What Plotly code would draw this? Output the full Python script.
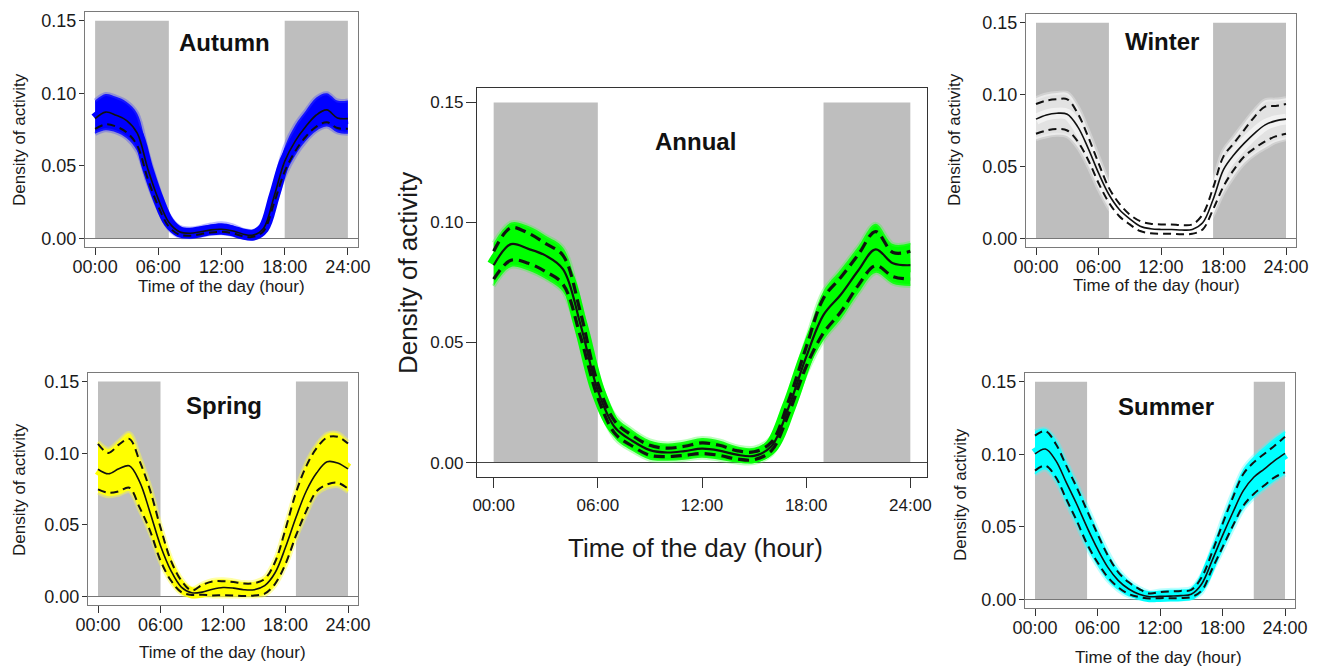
import plotly.graph_objects as go

W, H = 1323, 667
FONT = "Liberation Sans, Arial, sans-serif"

HOURS = list(range(25))
X_TICKS = [0, 6, 12, 18, 24]
X_TICKTEXT = ["00:00", "06:00", "12:00", "18:00", "24:00"]
Y_TICKS = [0.0, 0.05, 0.10, 0.15]
Y_TICKTEXT = ["0.00", "0.05", "0.10", "0.15"]
NIGHT_TOP = 0.15

# ---------------- Annual ----------------
ANNUAL_MEAN = [0.0822, 0.0910, 0.0890, 0.0862, 0.0805, 0.0575, 0.0300, 0.0145, 0.0090, 0.0052, 0.0042, 0.0048, 0.0058,
               0.0050, 0.0033, 0.0028, 0.0068, 0.0232, 0.0440, 0.0615, 0.0700, 0.0800, 0.0888, 0.0830, 0.0822]
ANNUAL_CI_HI = [0.0880, 0.0978, 0.0955, 0.0912, 0.0862, 0.0625, 0.0330, 0.0170, 0.0112, 0.0072, 0.0060, 0.0068, 0.0082,
                0.0072, 0.0050, 0.0045, 0.0085, 0.0260, 0.0480, 0.0685, 0.0772, 0.0866, 0.0962, 0.0875, 0.0880]
ANNUAL_CI_LO = [0.0764, 0.0843, 0.0830, 0.0795, 0.0742, 0.0525, 0.0270, 0.0120, 0.0068, 0.0030, 0.0025, 0.0030, 0.0038,
                0.0030, 0.0015, 0.0012, 0.0050, 0.0205, 0.0400, 0.0540, 0.0628, 0.0738, 0.0820, 0.0775, 0.0764]
ANNUAL_ENV_HI = [0.0915, 0.1000, 0.0985, 0.0945, 0.0895, 0.0660, 0.0360, 0.0195, 0.0135, 0.0092, 0.0080, 0.0088, 0.0102,
                 0.0092, 0.0068, 0.0062, 0.0105, 0.0285, 0.0510, 0.0715, 0.0805, 0.0900, 0.0995, 0.0910, 0.0915]
ANNUAL_ENV_LO = [0.0735, 0.0815, 0.0800, 0.0765, 0.0710, 0.0495, 0.0245, 0.0100, 0.0048, 0.0012, 0.0008, 0.0012, 0.0020,
                 0.0012, 0.0000, -0.0002, 0.0032, 0.0180, 0.0370, 0.0510, 0.0598, 0.0705, 0.0790, 0.0745, 0.0735]
ANNUAL_NIGHT_START = [0, 19]
ANNUAL_NIGHT_END = [6, 24]

# ---------------- Autumn ----------------
AUTUMN_MEAN = [0.0825, 0.0870, 0.0848, 0.0812, 0.0725, 0.0480, 0.0270, 0.0110, 0.0045, 0.0035, 0.0045, 0.0058, 0.0062,
               0.0052, 0.0030, 0.0022, 0.0070, 0.0290, 0.0530, 0.0670, 0.0770, 0.0850, 0.0885, 0.0830, 0.0825]
AUTUMN_CI_LO = [0.0755, 0.0785, 0.0770, 0.0730, 0.0640, 0.0410, 0.0220, 0.0080, 0.0025, 0.0018, 0.0028, 0.0040, 0.0045,
                0.0036, 0.0015, 0.0010, 0.0050, 0.0245, 0.0460, 0.0600, 0.0700, 0.0770, 0.0800, 0.0760, 0.0755]
AUTUMN_ENV_HI = [0.0950, 0.0995, 0.0975, 0.0940, 0.0860, 0.0590, 0.0350, 0.0160, 0.0080, 0.0068, 0.0078, 0.0095, 0.0103,
                 0.0090, 0.0060, 0.0050, 0.0105, 0.0360, 0.0630, 0.0780, 0.0880, 0.0970, 0.1000, 0.0950, 0.0950]
AUTUMN_ENV_LO = [0.0720, 0.0745, 0.0730, 0.0690, 0.0600, 0.0380, 0.0200, 0.0065, 0.0012, 0.0008, 0.0018, 0.0030, 0.0035,
                 0.0025, 0.0005, 0.0000, 0.0038, 0.0225, 0.0430, 0.0570, 0.0670, 0.0740, 0.0770, 0.0730, 0.0720]
AUTUMN_NIGHT_START = [0, 18]
AUTUMN_NIGHT_END = [7, 24]

# ---------------- Spring ----------------
SPRING_MEAN = [0.0888, 0.0856, 0.0891, 0.0912, 0.0800, 0.0586, 0.0354, 0.0180, 0.0065, 0.0025, 0.0030, 0.0050, 0.0062,
               0.0058, 0.0047, 0.0047, 0.0075, 0.0165, 0.0343, 0.0551, 0.0736, 0.0863, 0.0940, 0.0932, 0.0890]
SPRING_CI_HI = [0.1065, 0.1002, 0.1060, 0.1100, 0.0944, 0.0741, 0.0481, 0.0250, 0.0111, 0.0042, 0.0080, 0.0104, 0.0106,
                0.0100, 0.0090, 0.0093, 0.0122, 0.0240, 0.0470, 0.0724, 0.0910, 0.1037, 0.1110, 0.1115, 0.1068]
SPRING_CI_LO = [0.0748, 0.0724, 0.0734, 0.0759, 0.0620, 0.0458, 0.0250, 0.0111, 0.0030, 0.0010, 0.0012, 0.0007, 0.0009,
                0.0007, 0.0002, 0.0007, 0.0019, 0.0088, 0.0227, 0.0424, 0.0597, 0.0736, 0.0782, 0.0794, 0.0752]
SPRING_ENV_HI = [0.1080, 0.1030, 0.1085, 0.1140, 0.0975, 0.0770, 0.0500, 0.0270, 0.0125, 0.0055, 0.0090, 0.0115, 0.0120,
                 0.0112, 0.0100, 0.0103, 0.0135, 0.0260, 0.0495, 0.0745, 0.0935, 0.1060, 0.1135, 0.1140, 0.1080]
SPRING_ENV_LO = [0.0725, 0.0700, 0.0710, 0.0735, 0.0600, 0.0440, 0.0235, 0.0100, 0.0020, 0.0000, 0.0002, 0.0000, 0.0000,
                 0.0000, 0.0000, 0.0000, 0.0010, 0.0075, 0.0210, 0.0405, 0.0575, 0.0715, 0.0760, 0.0770, 0.0730]
SPRING_NIGHT_START = [0, 19]
SPRING_NIGHT_END = [6, 24]

# ---------------- Winter ----------------
WINTER_MEAN = [0.0829, 0.0858, 0.0870, 0.0863, 0.0777, 0.0628, 0.0455, 0.0305, 0.0201, 0.0136, 0.0085, 0.0067, 0.0062,
               0.0062, 0.0058, 0.0062, 0.0108, 0.0270, 0.0478, 0.0581, 0.0662, 0.0732, 0.0789, 0.0817, 0.0829]
WINTER_CI_HI = [0.0934, 0.0958, 0.0967, 0.0967, 0.0870, 0.0708, 0.0524, 0.0351, 0.0242, 0.0166, 0.0120, 0.0101, 0.0097,
                0.0097, 0.0092, 0.0097, 0.0166, 0.0351, 0.0570, 0.0662, 0.0755, 0.0847, 0.0916, 0.0921, 0.0934]
WINTER_CI_LO = [0.0727, 0.0750, 0.0760, 0.0750, 0.0674, 0.0547, 0.0385, 0.0249, 0.0154, 0.0097, 0.0051, 0.0035, 0.0032,
                0.0032, 0.0028, 0.0032, 0.0062, 0.0201, 0.0362, 0.0478, 0.0570, 0.0628, 0.0674, 0.0709, 0.0727]
WINTER_ENV_HI = [0.0975, 0.1000, 0.1010, 0.1010, 0.0915, 0.0750, 0.0565, 0.0390, 0.0280, 0.0200, 0.0150, 0.0130, 0.0125,
                 0.0125, 0.0120, 0.0125, 0.0200, 0.0390, 0.0610, 0.0705, 0.0800, 0.0890, 0.0960, 0.0965, 0.0975]
WINTER_ENV_LO = [0.0690, 0.0710, 0.0720, 0.0710, 0.0635, 0.0505, 0.0345, 0.0210, 0.0120, 0.0065, 0.0025, 0.0010, 0.0008,
                 0.0008, 0.0005, 0.0008, 0.0030, 0.0165, 0.0320, 0.0435, 0.0525, 0.0585, 0.0630, 0.0670, 0.0690]
WINTER_NIGHT_START = [0, 17]
WINTER_NIGHT_END = [7, 24]

# ---------------- Summer ----------------
SUMMER_MEAN = [0.1002, 0.1036, 0.0956, 0.0806, 0.0657, 0.0496, 0.0347, 0.0220, 0.0129, 0.0071, 0.0035, 0.0018, 0.0020,
               0.0022, 0.0025, 0.0035, 0.0106, 0.0267, 0.0439, 0.0600, 0.0749, 0.0841, 0.0898, 0.0956, 0.1006]
SUMMER_CI_HI = [0.1128, 0.1160, 0.1071, 0.0921, 0.0772, 0.0611, 0.0450, 0.0301, 0.0186, 0.0117, 0.0071, 0.0040, 0.0050,
                0.0055, 0.0058, 0.0065, 0.0152, 0.0324, 0.0519, 0.0703, 0.0864, 0.0944, 0.1002, 0.1059, 0.1121]
SUMMER_CI_LO = [0.0887, 0.0921, 0.0841, 0.0691, 0.0542, 0.0381, 0.0255, 0.0151, 0.0082, 0.0036, 0.0015, 0.0005, 0.0008,
                0.0008, 0.0008, 0.0015, 0.0060, 0.0209, 0.0358, 0.0508, 0.0645, 0.0726, 0.0784, 0.0841, 0.0875]
SUMMER_ENV_HI = [0.1160, 0.1175, 0.1100, 0.0950, 0.0800, 0.0640, 0.0478, 0.0325, 0.0205, 0.0130, 0.0080, 0.0050, 0.0060,
                 0.0065, 0.0068, 0.0078, 0.0170, 0.0350, 0.0555, 0.0740, 0.0900, 0.0985, 0.1050, 0.1110, 0.1160]
SUMMER_ENV_LO = [0.0860, 0.0895, 0.0815, 0.0665, 0.0515, 0.0355, 0.0230, 0.0128, 0.0062, 0.0020, 0.0005, 0.0000, 0.0000,
                 0.0000, 0.0000, 0.0005, 0.0045, 0.0190, 0.0335, 0.0485, 0.0620, 0.0700, 0.0760, 0.0815, 0.0860]
SUMMER_NIGHT_START = [0, 21]
SUMMER_NIGHT_END = [5, 24]

# panel definitions: name, band color, halo color, data, night, pixel box, style
PANELS = [
    dict(name="Autumn", color="rgb(0,0,255)", halo="rgba(60,60,255,0.35)",
         mean=AUTUMN_MEAN, hi=None, lo=AUTUMN_CI_LO, env_hi=AUTUMN_ENV_HI, env_lo=AUTUMN_ENV_LO,
         ns=AUTUMN_NIGHT_START, ne=AUTUMN_NIGHT_END, box=(85, 358, 12, 247), big=False,
         title_xy=(224, 43), xt_xy=(221, 286), yt_xy=(20, 140)),
    dict(name="Spring", color="rgb(255,255,0)", halo="rgba(255,255,60,0.45)",
         mean=SPRING_MEAN, hi=SPRING_CI_HI, lo=SPRING_CI_LO, env_hi=SPRING_ENV_HI, env_lo=SPRING_ENV_LO,
         ns=SPRING_NIGHT_START, ne=SPRING_NIGHT_END, box=(88, 358, 373, 605), big=False,
         title_xy=(224, 405), xt_xy=(222, 652), yt_xy=(19, 490)),
    dict(name="Annual", color="rgb(0,255,0)", halo="rgba(60,255,60,0.35)",
         mean=ANNUAL_MEAN, hi=ANNUAL_CI_HI, lo=ANNUAL_CI_LO, env_hi=ANNUAL_ENV_HI, env_lo=ANNUAL_ENV_LO,
         ns=ANNUAL_NIGHT_START, ne=ANNUAL_NIGHT_END, box=(477, 927, 88, 477), big=True,
         title_xy=(695, 141), xt_xy=(696, 548), yt_xy=(408, 273)),
    dict(name="Winter", color="rgba(255,255,255,0.55)", halo="rgba(255,255,255,0.3)",
         mean=WINTER_MEAN, hi=WINTER_CI_HI, lo=WINTER_CI_LO, env_hi=WINTER_ENV_HI, env_lo=WINTER_ENV_LO,
         ns=WINTER_NIGHT_START, ne=WINTER_NIGHT_END, box=(1026, 1296, 14, 247), big=False,
         title_xy=(1162, 42), xt_xy=(1156, 285), yt_xy=(955, 140)),
    dict(name="Summer", color="rgb(0,255,255)", halo="rgba(60,255,255,0.35)",
         mean=SUMMER_MEAN, hi=SUMMER_CI_HI, lo=SUMMER_CI_LO, env_hi=SUMMER_ENV_HI, env_lo=SUMMER_ENV_LO,
         ns=SUMMER_NIGHT_START, ne=SUMMER_NIGHT_END, box=(1025, 1295, 373, 608), big=False,
         title_xy=(1166, 406), xt_xy=(1158, 657), yt_xy=(960, 495)),
]

fig = go.Figure()
layout = dict(width=W, height=H, margin=dict(l=0, r=0, t=0, b=0, pad=0), showlegend=False,
              template="none",
              paper_bgcolor="white", plot_bgcolor="white", font=dict(family=FONT, color="#1a1a1a"))
shapes, annotations = [], []

for i, p in enumerate(PANELS, start=1):
    xa, ya = f"x{i}", f"y{i}"
    big = p["big"]
    l, r, t, b = p["box"]
    axcol = "#333333" if big else "#7a7a7a"
    layout[f"xaxis{i}"] = dict(
        domain=[l / W, r / W], range=[-0.96, 24.96], anchor=ya, automargin=False,
        tickvals=X_TICKS, ticktext=X_TICKTEXT, ticks="outside", ticklen=10 if big else 7,
        ticklabelstandoff=2 if big else -4,
        tickwidth=1, tickcolor="#333", showline=True, mirror=True, linecolor=axcol, linewidth=1.2,
        showgrid=False, zeroline=False, tickfont=dict(size=17 if big else 18, color="#1a1a1a"),
        fixedrange=True)
    layout[f"yaxis{i}"] = dict(
        domain=[1 - b / H, 1 - t / H], range=[-0.006, 0.156], anchor=xa, automargin=False,
        tickvals=Y_TICKS, ticktext=Y_TICKTEXT, ticks="outside", ticklen=10 if big else 5,
        ticklabelstandoff=-1,
        tickwidth=1, tickcolor="#333", showline=True, mirror=True, linecolor=axcol, linewidth=1.2,
        showgrid=False, zeroline=True, zerolinecolor="#444" if big else "#777", zerolinewidth=1.2,
        tickfont=dict(size=17 if big else 18, color="#1a1a1a"), fixedrange=True)

    # night periods
    for s, e in zip(p["ns"], p["ne"]):
        shapes.append(dict(type="rect", xref=xa, yref=ya, x0=s, x1=e, y0=0, y1=NIGHT_TOP,
                           fillcolor="#bebebe", line=dict(width=0), layer="below"))

    # bootstrap band: envelope fill + soft halo + thick ribbon along mean
    fig.add_trace(go.Scatter(x=HOURS, y=p["env_hi"], xaxis=xa, yaxis=ya, mode="lines",
                             line=dict(color=p["halo"], width=4, shape="spline"), hoverinfo="skip"))
    fig.add_trace(go.Scatter(x=HOURS, y=p["env_lo"], xaxis=xa, yaxis=ya, mode="lines", fill="tonexty",
                             fillcolor=p["color"], line=dict(color=p["halo"], width=4, shape="spline"),
                             hoverinfo="skip"))
    fig.add_trace(go.Scatter(x=HOURS, y=p["mean"], xaxis=xa, yaxis=ya, mode="lines",
                             line=dict(color=p["color"], width=14 if big else 11, shape="spline"),
                             hoverinfo="skip"))

    # confidence lines and mean
    dash = "11px,6px" if big else "8px,5px"
    dw = 3.2 if big else 2.0
    for ci in (p["hi"], p["lo"]):
        if ci is None:
            continue
        fig.add_trace(go.Scatter(x=HOURS, y=ci, xaxis=xa, yaxis=ya, mode="lines",
                                 line=dict(color="#111", width=dw, dash=dash, shape="spline"),
                                 hoverinfo="skip"))
    fig.add_trace(go.Scatter(x=HOURS, y=p["mean"], xaxis=xa, yaxis=ya, mode="lines",
                             line=dict(color="#111", width=2.2 if big else 1.6, shape="spline"),
                             hoverinfo="skip"))

    # texts
    tx, ty = p["title_xy"]
    annotations.append(dict(text=f"<b>{p['name']}</b>", x=tx / W, y=1 - ty / H, xref="paper", yref="paper",
                            xanchor="center", yanchor="middle", showarrow=False,
                            font=dict(size=24, color="#111", family=FONT)))
    xx, xy = p["xt_xy"]
    annotations.append(dict(text="Time of the day (hour)", x=xx / W, y=1 - xy / H, xref="paper", yref="paper",
                            xanchor="center", yanchor="middle", showarrow=False,
                            font=dict(size=26 if big else 17, color="#1a1a1a", family=FONT)))
    yx, yy = p["yt_xy"]
    annotations.append(dict(text="Density of activity", x=yx / W, y=1 - yy / H, xref="paper", yref="paper",
                            xanchor="center", yanchor="middle", showarrow=False, textangle=-90,
                            font=dict(size=26 if big else 17, color="#1a1a1a", family=FONT)))

layout["shapes"] = shapes
layout["annotations"] = annotations
fig.update_layout(**layout)
fig.write_html("out.html", config={"displayModeBar": False, "staticPlot": True},
               post_script="document.body.style.margin='0';document.body.style.overflow='hidden';")
